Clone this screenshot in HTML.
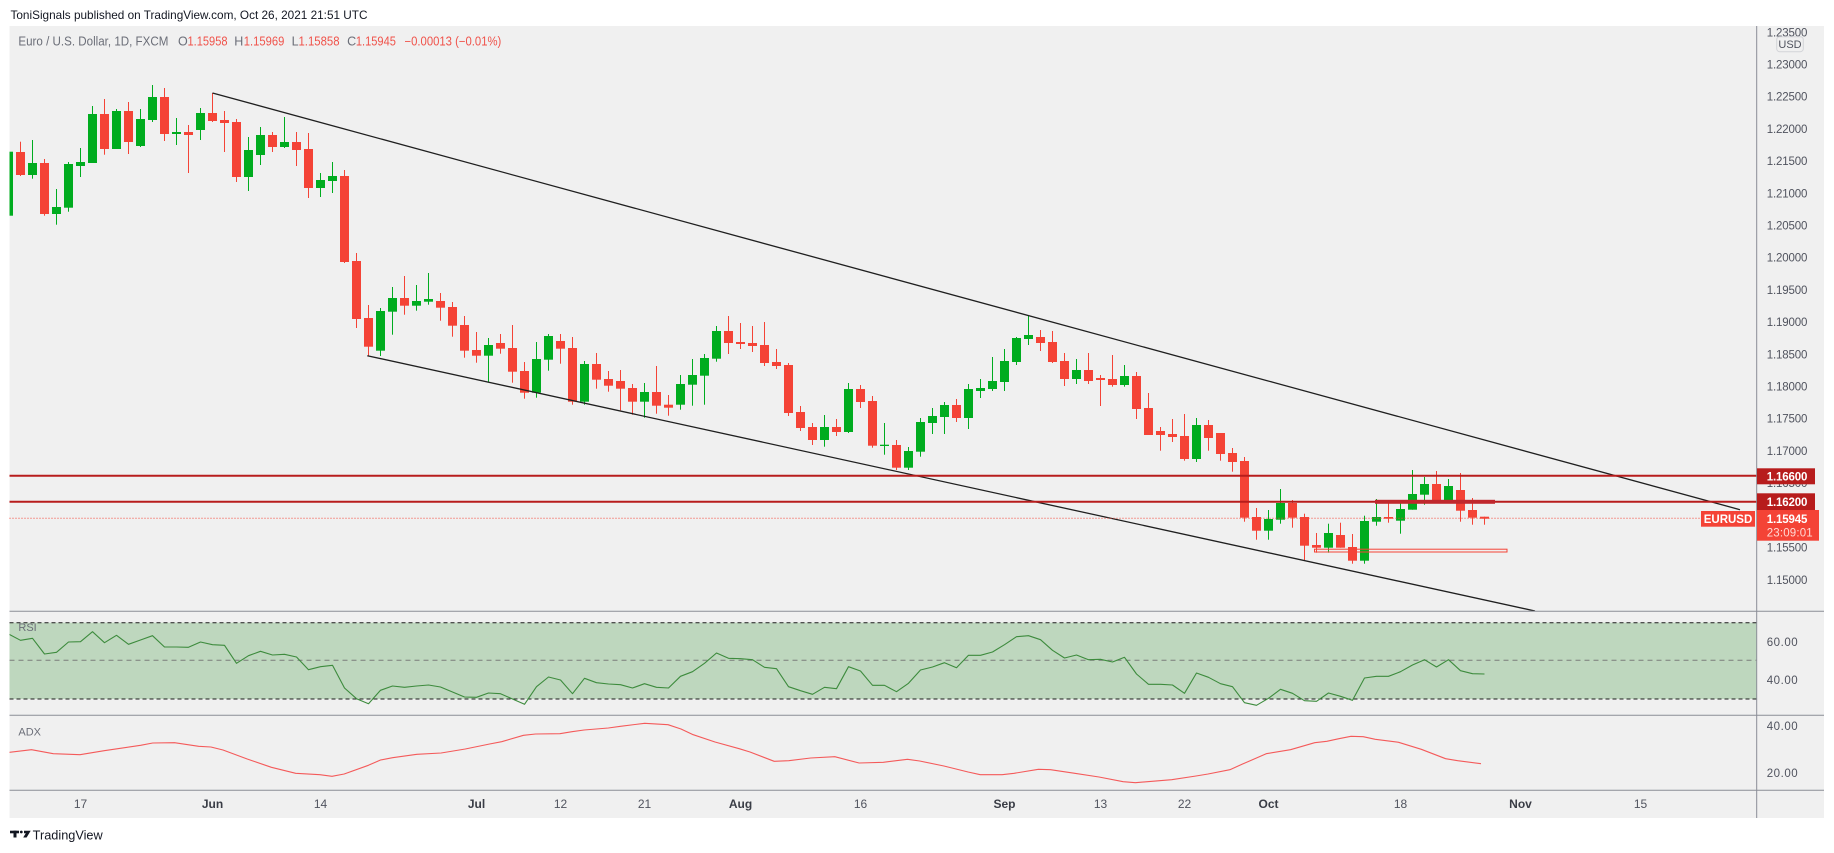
<!DOCTYPE html>
<html><head><meta charset="utf-8"><style>
html,body{margin:0;padding:0;background:#fff;}
svg{display:block;}
.g{fill:#00ac1f}.r{fill:#f44336}
text{font-family:"Liberation Sans",sans-serif;}
.ax{font-size:11.5px;fill:#50535e}
.tm{font-size:12px;fill:#50535e;text-anchor:middle}
.tb{font-size:12px;fill:#3a3d46;text-anchor:middle;font-weight:bold}
</style></head><body>
<svg width="1834" height="853" viewBox="0 0 1834 853" xmlns="http://www.w3.org/2000/svg">
<defs>
<clipPath id="main"><rect x="9.5" y="26" width="1747" height="585"/></clipPath>
<clipPath id="ind"><rect x="9.5" y="611" width="1747" height="180"/></clipPath>
<clipPath id="axc"><rect x="1757" y="26" width="67" height="585"/></clipPath>
</defs>
<rect width="1834" height="853" fill="#fff"/>
<text x="10.5" y="19" font-size="12" fill="#131722" textLength="357" lengthAdjust="spacingAndGlyphs">ToniSignals published on TradingView.com, Oct 26, 2021 21:51 UTC</text>
<rect x="9.5" y="26" width="1814.5" height="792" fill="#f0f0f0"/>

<!-- legend -->
<g font-size="12.5">
<text x="18.4" y="45.5" fill="#6b6e78" textLength="150" lengthAdjust="spacingAndGlyphs">Euro / U.S. Dollar, 1D, FXCM</text>
<text x="178" y="45.5" fill="#6b6e78">O</text><text x="187.5" y="45.5" fill="#f0524a" textLength="40" lengthAdjust="spacingAndGlyphs">1.15958</text>
<text x="234.2" y="45.5" fill="#6b6e78">H</text><text x="243.8" y="45.5" fill="#f0524a" textLength="40.5" lengthAdjust="spacingAndGlyphs">1.15969</text>
<text x="291.6" y="45.5" fill="#6b6e78">L</text><text x="298.5" y="45.5" fill="#f0524a" textLength="41" lengthAdjust="spacingAndGlyphs">1.15858</text>
<text x="347.1" y="45.5" fill="#6b6e78">C</text><text x="355.9" y="45.5" fill="#f0524a" textLength="40" lengthAdjust="spacingAndGlyphs">1.15945</text>
<text x="404.5" y="45.5" fill="#f0524a" textLength="96.8" lengthAdjust="spacingAndGlyphs">−0.00013 (−0.01%)</text>
</g>

<g clip-path="url(#main)">
<!-- candles -->
<rect class="g" x="4" y="151.7" width="9" height="64"/><rect class="g" x="8" y="148" width="1" height="70"/>
<rect class="r" x="16" y="152" width="9" height="23"/><rect class="r" x="20" y="141.7" width="1" height="34.3"/>
<rect class="g" x="28" y="163" width="9" height="12"/><rect class="g" x="32" y="140" width="1" height="38.7"/>
<rect class="r" x="40" y="163" width="9" height="51"/><rect class="r" x="44" y="159" width="1" height="56.7"/>
<rect class="g" x="52" y="207" width="9" height="7"/><rect class="g" x="56" y="189" width="1" height="35.7"/>
<rect class="g" x="64" y="164" width="9" height="43.7"/><rect class="g" x="68" y="162" width="1" height="49.7"/>
<rect class="g" x="76" y="162" width="9" height="4"/><rect class="g" x="80" y="148" width="1" height="29"/>
<rect class="g" x="88" y="114" width="9" height="49"/><rect class="g" x="92" y="106" width="1" height="57"/>
<rect class="r" x="100" y="114" width="9" height="35"/><rect class="r" x="104" y="99" width="1" height="55.7"/>
<rect class="g" x="112" y="111" width="9" height="38"/><rect class="g" x="116" y="109" width="1" height="40"/>
<rect class="r" x="124" y="111" width="9" height="31"/><rect class="r" x="128" y="102" width="1" height="52"/>
<rect class="g" x="136" y="119" width="9" height="27"/><rect class="g" x="140" y="109" width="1" height="38"/>
<rect class="g" x="148" y="97" width="9" height="23"/><rect class="g" x="152" y="85" width="1" height="37"/>
<rect class="r" x="160" y="97" width="9" height="37"/><rect class="r" x="164" y="88" width="1" height="53"/>
<rect class="g" x="172" y="132" width="9" height="2"/><rect class="g" x="176" y="118" width="1" height="27"/>
<rect class="r" x="184" y="132" width="9" height="3"/><rect class="r" x="188" y="125" width="1" height="48"/>
<rect class="g" x="196" y="113" width="9" height="17"/><rect class="g" x="200" y="108" width="1" height="32"/>
<rect class="r" x="208" y="113" width="9" height="8"/><rect class="r" x="212" y="93" width="1" height="29"/>
<rect class="r" x="220" y="120" width="9" height="3"/><rect class="r" x="224" y="111" width="1" height="41"/>
<rect class="r" x="232" y="122" width="9" height="55"/><rect class="r" x="236" y="119" width="1" height="63"/>
<rect class="g" x="244" y="150" width="9" height="27"/><rect class="g" x="248" y="137" width="1" height="54"/>
<rect class="g" x="256" y="135" width="9" height="20"/><rect class="g" x="260" y="127" width="1" height="38"/>
<rect class="r" x="268" y="135" width="9" height="12"/><rect class="r" x="272" y="132" width="1" height="20"/>
<rect class="g" x="280" y="142" width="9" height="5"/><rect class="g" x="284" y="117" width="1" height="31"/>
<rect class="r" x="292" y="142" width="9" height="8"/><rect class="r" x="296" y="132" width="1" height="34"/>
<rect class="r" x="304" y="149" width="9" height="39"/><rect class="r" x="308" y="133" width="1" height="65"/>
<rect class="g" x="316" y="180" width="9" height="8"/><rect class="g" x="320" y="173" width="1" height="24"/>
<rect class="g" x="328" y="176" width="9" height="5"/><rect class="g" x="332" y="162" width="1" height="31"/>
<rect class="r" x="340" y="176" width="9" height="86"/><rect class="r" x="344" y="170" width="1" height="93"/>
<rect class="r" x="352" y="261" width="9" height="58"/><rect class="r" x="356" y="253" width="1" height="75"/>
<rect class="r" x="364" y="318" width="9" height="28.7"/><rect class="r" x="368" y="305" width="1" height="50.7"/>
<rect class="g" x="376" y="311" width="9" height="39.7"/><rect class="g" x="380" y="308" width="1" height="48"/>
<rect class="g" x="388" y="298" width="9" height="13.7"/><rect class="g" x="392" y="287" width="1" height="47.7"/>
<rect class="r" x="400" y="298" width="9" height="7.7"/><rect class="r" x="404" y="276" width="1" height="38.7"/>
<rect class="g" x="412" y="301" width="9" height="4.7"/><rect class="g" x="416" y="285" width="1" height="25.7"/>
<rect class="g" x="424" y="299" width="9" height="2.7"/><rect class="g" x="428" y="273" width="1" height="31.7"/>
<rect class="r" x="436" y="301" width="9" height="6.7"/><rect class="r" x="440" y="293" width="1" height="27.7"/>
<rect class="r" x="448" y="307" width="9" height="18.7"/><rect class="r" x="452" y="302" width="1" height="34.7"/>
<rect class="r" x="460" y="325" width="9" height="25.7"/><rect class="r" x="464" y="316" width="1" height="41.7"/>
<rect class="r" x="472" y="350" width="9" height="5.7"/><rect class="r" x="476" y="332" width="1" height="30.7"/>
<rect class="g" x="484" y="345" width="9" height="10.7"/><rect class="g" x="488" y="338" width="1" height="43.7"/>
<rect class="r" x="496" y="343" width="9" height="5.7"/><rect class="r" x="500" y="334" width="1" height="19.7"/>
<rect class="r" x="508" y="348" width="9" height="23.7"/><rect class="r" x="512" y="325" width="1" height="57.7"/>
<rect class="r" x="520" y="371" width="9" height="21.7"/><rect class="r" x="524" y="362" width="1" height="36.7"/>
<rect class="g" x="532" y="359" width="9" height="33.7"/><rect class="g" x="536" y="342" width="1" height="55.7"/>
<rect class="g" x="544" y="336" width="9" height="23.7"/><rect class="g" x="548" y="334" width="1" height="36.7"/>
<rect class="r" x="556" y="341" width="9" height="7.7"/><rect class="r" x="560" y="334" width="1" height="29.7"/>
<rect class="r" x="568" y="348" width="9" height="53.7"/><rect class="r" x="572" y="337" width="1" height="67.7"/>
<rect class="g" x="580" y="364" width="9" height="37.7"/><rect class="g" x="584" y="361" width="1" height="43.7"/>
<rect class="r" x="592" y="364" width="9" height="15.7"/><rect class="r" x="596" y="353" width="1" height="35.7"/>
<rect class="r" x="604" y="379" width="9" height="6.7"/><rect class="r" x="608" y="371" width="1" height="20.7"/>
<rect class="r" x="616" y="381" width="9" height="7.7"/><rect class="r" x="620" y="370" width="1" height="40.3"/>
<rect class="r" x="628" y="388" width="9" height="13.7"/><rect class="r" x="632" y="384" width="1" height="30.7"/>
<rect class="g" x="640" y="392" width="9" height="9.7"/><rect class="g" x="644" y="383" width="1" height="34.7"/>
<rect class="r" x="652" y="392" width="9" height="13.7"/><rect class="r" x="656" y="366" width="1" height="47.7"/>
<rect class="r" x="664" y="404.7" width="9" height="3"/><rect class="r" x="668" y="395" width="1" height="20.7"/>
<rect class="g" x="676" y="384" width="9" height="20.7"/><rect class="g" x="680" y="375" width="1" height="34.7"/>
<rect class="g" x="688" y="375" width="9" height="9.7"/><rect class="g" x="692" y="359" width="1" height="46.7"/>
<rect class="g" x="700" y="358" width="9" height="17.7"/><rect class="g" x="704" y="354" width="1" height="50.7"/>
<rect class="g" x="712" y="331" width="9" height="27.7"/><rect class="g" x="716" y="326" width="1" height="35.7"/>
<rect class="r" x="724" y="331" width="9" height="12"/><rect class="r" x="728" y="316" width="1" height="38"/>
<rect class="r" x="736" y="342" width="9" height="2"/><rect class="r" x="740" y="323" width="1" height="26"/>
<rect class="r" x="748" y="343" width="9" height="3"/><rect class="r" x="752" y="326" width="1" height="26"/>
<rect class="r" x="760" y="345" width="9" height="18"/><rect class="r" x="764" y="322" width="1" height="44"/>
<rect class="r" x="772" y="362" width="9" height="4"/><rect class="r" x="776" y="349" width="1" height="20"/>
<rect class="r" x="784" y="365" width="9" height="48"/><rect class="r" x="788" y="363" width="1" height="53"/>
<rect class="r" x="796" y="412" width="9" height="16"/><rect class="r" x="800" y="406" width="1" height="25"/>
<rect class="r" x="808" y="427" width="9" height="13"/><rect class="r" x="812" y="423" width="1" height="22"/>
<rect class="g" x="820" y="427" width="9" height="13"/><rect class="g" x="824" y="415" width="1" height="31.7"/>
<rect class="r" x="832" y="427" width="9" height="5"/><rect class="r" x="836" y="419" width="1" height="17"/>
<rect class="g" x="844" y="389" width="9" height="43"/><rect class="g" x="848" y="383" width="1" height="50"/>
<rect class="r" x="856" y="389" width="9" height="13"/><rect class="r" x="860" y="385" width="1" height="23"/>
<rect class="r" x="868" y="401" width="9" height="44.7"/><rect class="r" x="872" y="396" width="1" height="51.7"/>
<rect class="g" x="880" y="444.7" width="9" height="1.3"/><rect class="g" x="884" y="423" width="1" height="31.7"/>
<rect class="r" x="892" y="445" width="9" height="22.7"/><rect class="r" x="896" y="440" width="1" height="30"/>
<rect class="g" x="904" y="451" width="9" height="16.7"/><rect class="g" x="908" y="447" width="1" height="23"/>
<rect class="g" x="916" y="422" width="9" height="29.7"/><rect class="g" x="920" y="418" width="1" height="38.7"/>
<rect class="g" x="928" y="416" width="9" height="7"/><rect class="g" x="932" y="408" width="1" height="26"/>
<rect class="g" x="940" y="405" width="9" height="12"/><rect class="g" x="944" y="402" width="1" height="32"/>
<rect class="r" x="952" y="405" width="9" height="13"/><rect class="r" x="956" y="399" width="1" height="23"/>
<rect class="g" x="964" y="389" width="9" height="29"/><rect class="g" x="968" y="384" width="1" height="45"/>
<rect class="g" x="976" y="388" width="9" height="3"/><rect class="g" x="980" y="379" width="1" height="19"/>
<rect class="g" x="988" y="381" width="9" height="8"/><rect class="g" x="992" y="357" width="1" height="34"/>
<rect class="g" x="1000" y="361" width="9" height="21"/><rect class="g" x="1004" y="349" width="1" height="42"/>
<rect class="g" x="1012" y="338" width="9" height="24"/><rect class="g" x="1016" y="337" width="1" height="28"/>
<rect class="g" x="1024" y="335" width="9" height="4"/><rect class="g" x="1028" y="315" width="1" height="30"/>
<rect class="r" x="1036" y="337" width="9" height="6"/><rect class="r" x="1040" y="330" width="1" height="21"/>
<rect class="r" x="1048" y="342" width="9" height="20"/><rect class="r" x="1052" y="331" width="1" height="32"/>
<rect class="r" x="1060" y="361" width="9" height="18"/><rect class="r" x="1064" y="353" width="1" height="33"/>
<rect class="g" x="1072" y="370" width="9" height="9"/><rect class="g" x="1076" y="359" width="1" height="25"/>
<rect class="r" x="1084" y="370" width="9" height="11"/><rect class="r" x="1088" y="353" width="1" height="31"/>
<rect class="r" x="1096" y="378" width="9" height="2"/><rect class="r" x="1100" y="375" width="1" height="31"/>
<rect class="r" x="1108" y="379" width="9" height="6"/><rect class="r" x="1112" y="355" width="1" height="31.7"/>
<rect class="g" x="1120" y="376" width="9" height="9"/><rect class="g" x="1124" y="365" width="1" height="21.7"/>
<rect class="r" x="1132" y="376" width="9" height="33"/><rect class="r" x="1136" y="372" width="1" height="47"/>
<rect class="r" x="1144" y="408" width="9" height="27"/><rect class="r" x="1148" y="393" width="1" height="42"/>
<rect class="r" x="1156" y="431" width="9" height="4"/><rect class="r" x="1160" y="427" width="1" height="23.7"/>
<rect class="r" x="1168" y="434" width="9" height="3"/><rect class="r" x="1172" y="419" width="1" height="23"/>
<rect class="r" x="1180" y="436" width="9" height="23"/><rect class="r" x="1184" y="414" width="1" height="46.7"/>
<rect class="g" x="1192" y="425" width="9" height="34"/><rect class="g" x="1196" y="418" width="1" height="44"/>
<rect class="r" x="1204" y="425" width="9" height="13"/><rect class="r" x="1208" y="420" width="1" height="30.7"/>
<rect class="r" x="1216" y="433" width="9" height="21"/><rect class="r" x="1220" y="433" width="1" height="27.7"/>
<rect class="r" x="1228" y="453" width="9" height="9"/><rect class="r" x="1232" y="448" width="1" height="23.7"/>
<rect class="r" x="1240" y="461" width="9" height="56.7"/><rect class="r" x="1244" y="457" width="1" height="64.7"/>
<rect class="r" x="1252" y="517" width="9" height="13.7"/><rect class="r" x="1256" y="508" width="1" height="31.7"/>
<rect class="g" x="1264" y="519" width="9" height="11.7"/><rect class="g" x="1268" y="510" width="1" height="29.7"/>
<rect class="g" x="1276" y="503" width="9" height="16.7"/><rect class="g" x="1280" y="489" width="1" height="34.7"/>
<rect class="r" x="1288" y="503" width="9" height="14.7"/><rect class="r" x="1292" y="500" width="1" height="27.7"/>
<rect class="r" x="1300" y="517" width="9" height="28.7"/><rect class="r" x="1304" y="513.7" width="1" height="47"/>
<rect class="r" x="1312" y="545" width="9" height="2.7"/><rect class="r" x="1316" y="533" width="1" height="19.7"/>
<rect class="g" x="1324" y="533" width="9" height="14.7"/><rect class="g" x="1328" y="523.7" width="1" height="29"/>
<rect class="r" x="1336" y="535" width="9" height="12.7"/><rect class="r" x="1340" y="522.7" width="1" height="25"/>
<rect class="r" x="1348" y="547" width="9" height="13.7"/><rect class="r" x="1352" y="534" width="1" height="29.7"/>
<rect class="g" x="1360" y="521" width="9" height="39.7"/><rect class="g" x="1364" y="515.7" width="1" height="48"/>
<rect class="g" x="1372" y="517" width="9" height="4.7"/><rect class="g" x="1376" y="499" width="1" height="26.7"/>
<rect class="r" x="1384" y="517" width="9" height="1.7"/><rect class="r" x="1388" y="503" width="1" height="19.7"/>
<rect class="g" x="1396" y="509" width="9" height="11.7"/><rect class="g" x="1400" y="500" width="1" height="33.7"/>
<rect class="g" x="1408" y="494" width="9" height="15.7"/><rect class="g" x="1412" y="470" width="1" height="39.7"/>
<rect class="g" x="1420" y="484" width="9" height="10.7"/><rect class="g" x="1424" y="477" width="1" height="27.7"/>
<rect class="r" x="1432" y="484" width="9" height="16"/><rect class="r" x="1436" y="471" width="1" height="31.7"/>
<rect class="g" x="1444" y="486" width="9" height="14.7"/><rect class="g" x="1448" y="479" width="1" height="23.7"/>
<rect class="r" x="1456" y="490" width="9" height="20.7"/><rect class="r" x="1460" y="473" width="1" height="48.7"/>
<rect class="r" x="1468" y="510" width="9" height="7.7"/><rect class="r" x="1472" y="498" width="1" height="26.7"/>
<rect class="r" x="1480" y="516.7" width="9" height="2"/><rect class="r" x="1484" y="516.7" width="1" height="8"/>

<!-- drawings -->
<line x1="212.5" y1="93" x2="1740" y2="509.7" stroke="#1f1f1f" stroke-width="1.3"/>
<line x1="367.3" y1="355.7" x2="1535" y2="611" stroke="#1f1f1f" stroke-width="1.3"/>
<line x1="9.5" y1="475.7" x2="1757" y2="475.7" stroke="#b71c1c" stroke-width="2"/>
<line x1="9.5" y1="501.7" x2="1757" y2="501.7" stroke="#b71c1c" stroke-width="2"/>
<rect x="1375" y="499.8" width="120" height="4" fill="#c0282d"/>
<rect x="1314.5" y="549.2" width="192.5" height="2.8" fill="none" stroke="#f44336" stroke-width="1"/>
<line x1="9.5" y1="518.3" x2="1701" y2="518.3" stroke="#f44336" stroke-width="1" stroke-dasharray="1 2"/>
</g>

<!-- RSI pane -->
<g clip-path="url(#ind)">
<rect x="9.5" y="622.7" width="1747" height="76.3" fill="#bed7be"/>
<line x1="9.5" y1="622.7" x2="1757" y2="622.7" stroke="#1a1a1a" stroke-width="1" stroke-dasharray="4 3"/>
<line x1="9.5" y1="699" x2="1757" y2="699" stroke="#1a1a1a" stroke-width="1" stroke-dasharray="4 3"/>
<line x1="9.5" y1="660.3" x2="1757" y2="660.3" stroke="#7a7d7a" stroke-width="1" stroke-dasharray="5 4"/>
<polyline fill="none" stroke="#3d8b3d" stroke-width="1.1" stroke-linejoin="round" points="8.5,634 20.5,640.3 32.5,638.3 44.5,654 56.5,652.3 68.5,642 80.5,641.7 92.5,631.7 104.5,642.7 116.5,635.3 128.5,644.3 140.5,640 152.5,635.7 164.5,647 176.5,647 188.5,647.3 200.5,642 212.5,644.7 224.5,645.3 236.5,663.3 248.5,655.7 260.5,651.3 272.5,655 284.5,654.3 296.5,657 308.5,669.7 320.5,666.7 332.5,665.3 344.5,688 356.5,698.7 368.5,703.7 380.5,690.3 392.5,686 404.5,687.3 416.5,686 428.5,685 440.5,687 452.5,692 464.5,697 476.5,697.3 488.5,693 500.5,693.7 512.5,699 524.5,704.3 536.5,686.7 548.5,677 560.5,680 572.5,693.7 584.5,678.3 596.5,682.7 608.5,684 620.5,684.7 632.5,688 644.5,683.7 656.5,687.3 668.5,688 680.5,676.3 692.5,671.7 704.5,663.3 716.5,653 728.5,658.3 740.5,658.7 752.5,659.7 764.5,667.3 776.5,668.7 788.5,686.7 800.5,690.7 812.5,694.3 824.5,687.3 836.5,688.7 848.5,666.7 860.5,671 872.5,685.3 884.5,685.3 896.5,691.7 908.5,683.3 920.5,670 932.5,667 944.5,662.7 956.5,667.7 968.5,655.3 980.5,655.3 992.5,652 1004.5,644.7 1016.5,636.7 1028.5,635.7 1040.5,639.7 1052.5,650.3 1064.5,658 1076.5,655 1088.5,659.7 1100.5,659.3 1112.5,662 1124.5,657.3 1136.5,674 1148.5,684.3 1160.5,684.3 1172.5,685 1184.5,693.3 1196.5,673 1208.5,677.3 1220.5,683.7 1232.5,686.7 1244.5,702.7 1256.5,705.3 1268.5,698.3 1280.5,689.3 1292.5,693.3 1304.5,700.7 1316.5,701.3 1328.5,693 1340.5,696.3 1352.5,700.3 1364.5,678 1376.5,676.3 1388.5,676.3 1400.5,671.7 1412.5,665 1424.5,659.7 1436.5,667 1448.5,659.7 1460.5,670.7 1472.5,673.7 1484.5,674"/>
<polyline fill="none" stroke="#f45a5a" stroke-width="1.1" stroke-linejoin="round" points="8,752.5 31.5,749.7 53.3,753.7 80,754.7 104.2,750.7 140.6,745.3 152.7,743 174.5,742.7 198.7,746.3 210.9,747 223,750 247.2,759 271.4,767.3 295.7,773.3 319.9,774.7 332,776.3 344.2,774 368.4,765.3 380.5,760 392.6,757.7 416.9,754.3 441.1,753 465.3,749 489.6,744 501.7,741.7 523.5,735.3 535.6,734 559.9,733.7 572,731.7 584.1,730 608.3,728 620.5,726.3 644.7,723.3 668,724.7 681,729 693.2,734.7 715,742 739.2,748.7 750,752 774.2,761.3 788.8,760.7 810.6,758 834.8,756.7 859.1,763 883.3,762.3 907.5,759.3 919.7,761 943.9,766 968.1,772 980.3,774.7 1002.1,774.7 1014.2,773.3 1038.4,769.3 1050.5,769.7 1074.8,773.3 1099,777 1123.2,781.7 1135.4,782.7 1147.5,781.7 1171.7,779.7 1196,776 1208.1,774 1229.9,769.7 1242,764.3 1266.2,753.7 1290.5,749.7 1314.7,742.7 1326.8,741.3 1338.9,738.7 1351,736.3 1363.2,736.7 1375.3,739.3 1398.6,742.3 1421.3,749.3 1445.6,758.7 1457.7,760.7 1481,763.7"/>
</g>
<text x="18.4" y="631" font-size="11" fill="#6b6e78">RSI</text>
<text x="18.4" y="735.5" font-size="11" fill="#6b6e78">ADX</text>

<!-- separators -->
<g stroke="#8a8d96" stroke-width="1">
<line x1="9.5" y1="611.3" x2="1824" y2="611.3"/>
<line x1="9.5" y1="715.3" x2="1824" y2="715.3"/>
<line x1="9.5" y1="790.3" x2="1824" y2="790.3"/>
<line x1="1756.7" y1="26" x2="1756.7" y2="818"/>
</g>

<!-- price axis -->
<g clip-path="url(#axc)">
<text class="ax" x="1766.7" y="36.3" textLength="40.7">1.23500</text>
<text class="ax" x="1766.7" y="68.5" textLength="40.7">1.23000</text>
<text class="ax" x="1766.7" y="100.7" textLength="40.7">1.22500</text>
<text class="ax" x="1766.7" y="132.9" textLength="40.7">1.22000</text>
<text class="ax" x="1766.7" y="165.1" textLength="40.7">1.21500</text>
<text class="ax" x="1766.7" y="197.3" textLength="40.7">1.21000</text>
<text class="ax" x="1766.7" y="229.5" textLength="40.7">1.20500</text>
<text class="ax" x="1766.7" y="261.7" textLength="40.7">1.20000</text>
<text class="ax" x="1766.7" y="293.9" textLength="40.7">1.19500</text>
<text class="ax" x="1766.7" y="326.1" textLength="40.7">1.19000</text>
<text class="ax" x="1766.7" y="358.3" textLength="40.7">1.18500</text>
<text class="ax" x="1766.7" y="390.5" textLength="40.7">1.18000</text>
<text class="ax" x="1766.7" y="422.7" textLength="40.7">1.17500</text>
<text class="ax" x="1766.7" y="455" textLength="40.7">1.17000</text>
<text class="ax" x="1766.7" y="487.2" textLength="40.7">1.16500</text>
<text class="ax" x="1766.7" y="519.4" textLength="40.7">1.16000</text>
<text class="ax" x="1766.7" y="551.6" textLength="40.7">1.15500</text>
<text class="ax" x="1766.7" y="583.8" textLength="40.7">1.15000</text>
</g>
<rect x="1776.7" y="36.7" width="26.6" height="15" rx="3" fill="#f0f0f0" stroke="#d3d4d8" stroke-width="1"/>
<text x="1790" y="48" font-size="11" fill="#50535e" text-anchor="middle">USD</text>

<rect x="1757" y="468.3" width="58" height="16" fill="#b71c1c"/>
<text x="1766.7" y="480.5" font-size="11.5" font-weight="bold" fill="#fff" textLength="40.7">1.16600</text>
<rect x="1757" y="493.3" width="58" height="16.7" fill="#b71c1c"/>
<text x="1766.7" y="505.8" font-size="11.5" font-weight="bold" fill="#fff" textLength="40.7">1.16200</text>
<rect x="1757" y="510" width="62" height="30.7" fill="#f44336"/>
<text x="1766.7" y="523.2" font-size="11.5" font-weight="bold" fill="#fff" textLength="40.7">1.15945</text>
<text x="1766.7" y="536.5" font-size="11.5" fill="#ffd9d4" textLength="46">23:09:01</text>
<rect x="1701" y="511" width="54" height="15.7" fill="#f44336"/>
<text x="1728" y="523" font-size="11.5" font-weight="bold" fill="#fff" text-anchor="middle">EURUSD</text>

<!-- indicator axes -->
<text class="ax" x="1766.7" y="645.9" textLength="31">60.00</text>
<text class="ax" x="1766.7" y="684.2" textLength="31">40.00</text>
<text class="ax" x="1766.7" y="729.9" textLength="31">40.00</text>
<text class="ax" x="1766.7" y="776.9" textLength="31">20.00</text>

<!-- time axis -->
<text class="tm" x="80.5" y="808">17</text>
<text class="tb" x="212.5" y="808">Jun</text>
<text class="tm" x="320.5" y="808">14</text>
<text class="tb" x="476.5" y="808">Jul</text>
<text class="tm" x="560.5" y="808">12</text>
<text class="tm" x="644.5" y="808">21</text>
<text class="tb" x="740.5" y="808">Aug</text>
<text class="tm" x="860.5" y="808">16</text>
<text class="tb" x="1004.5" y="808">Sep</text>
<text class="tm" x="1100.5" y="808">13</text>
<text class="tm" x="1184.5" y="808">22</text>
<text class="tb" x="1268.5" y="808">Oct</text>
<text class="tm" x="1400.5" y="808">18</text>
<text class="tb" x="1520.5" y="808">Nov</text>
<text class="tm" x="1640.5" y="808">15</text>

<!-- footer logo -->
<g fill="#131722">
<rect x="10" y="830.7" width="9" height="2.6"/>
<rect x="13.5" y="830.7" width="3" height="6.8"/>
<circle cx="21.3" cy="832" r="1.4"/>
<polygon points="24,830.7 30.7,830.7 26.6,837.5 23.2,837.5 25.8,833.2 24,833.2"/>
</g>
<text x="32.7" y="839.5" font-size="12.5" fill="#131722" textLength="70" lengthAdjust="spacingAndGlyphs">TradingView</text>
</svg>
</body></html>
